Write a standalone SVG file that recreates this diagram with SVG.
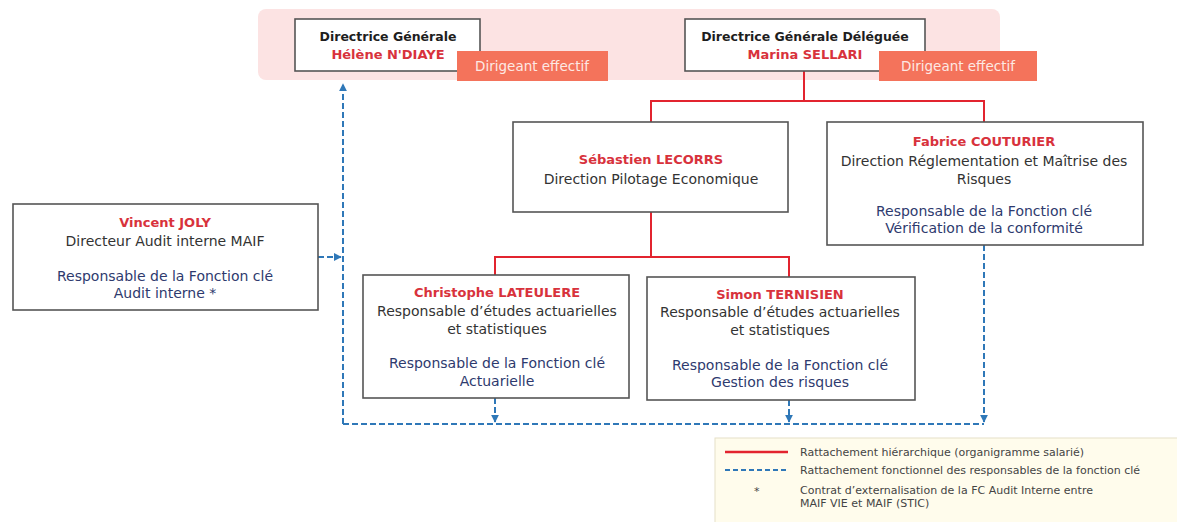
<svg xmlns="http://www.w3.org/2000/svg" width="1177" height="522" viewBox="0 0 1177 522">
<defs>
<style>
text{font-family:"DejaVu Sans","Liberation Sans",sans-serif;text-anchor:middle;}
.box{fill:#fff;stroke:#555;stroke-width:1.6;}
.hd{font-size:12.5px;font-weight:bold;fill:#1e1e1e;}
.nm{font-size:13px;font-weight:bold;fill:#d8323c;}
.tx{font-size:14px;fill:#333;}
.fc{font-size:14px;fill:#2e3a6e;}
.tag{fill:#f4735b;}
.tagt{font-size:13.5px;fill:#fde9e4;}
.red{fill:none;stroke:#e2242f;stroke-width:2;}
.blue{fill:none;stroke:#2f78b8;stroke-width:2;stroke-dasharray:6 3;}
.lg{font-size:11px;fill:#444;text-anchor:start;}
</style>
<marker id="ah" viewBox="0 0 10 10" refX="9" refY="5" markerWidth="4" markerHeight="4" orient="auto" markerUnits="strokeWidth">
<path d="M0,0 L10,5 L0,10 z" fill="#2f78b8"/>
</marker>
</defs>
<rect width="1177" height="522" fill="#fff"/>
<rect id="band" x="258" y="9" width="742" height="71" rx="8" fill="#fce3e3"/>

<g id="connectors">
<path class="red" d="M804,71 V101 M651,122 V101 H984 V122"/>
<path class="red" d="M651,212 V257 M495,275 V257 H789 V277"/>
<path class="blue" d="M343,424 V84" marker-end="url(#ah)"/>
<path class="blue" d="M318,257 H341" marker-end="url(#ah)"/>
<path class="blue" d="M343,424 H984"/>
<path class="blue" d="M984,245 V422" marker-end="url(#ah)"/>
<path class="blue" d="M495,398 V422" marker-end="url(#ah)"/>
<path class="blue" d="M789,400 V422" marker-end="url(#ah)"/>
</g>

<g id="dg">
<rect class="box" x="295" y="19" width="185" height="52"/>
<text class="hd" x="388" y="41">Directrice Générale</text>
<text class="nm" x="388" y="59">Hélène N'DIAYE</text>
<rect class="tag" x="457" y="51" width="151" height="30"/>
<text class="tagt" x="532" y="71">Dirigeant effectif</text>
</g>

<g id="dgd">
<rect class="box" x="685" y="19" width="240" height="52"/>
<text class="hd" x="805" y="41">Directrice Générale Déléguée</text>
<text class="nm" x="805" y="59">Marina SELLARI</text>
<rect class="tag" x="879" y="51" width="158" height="30"/>
<text class="tagt" x="958" y="71">Dirigeant effectif</text>
</g>

<g id="sebastien">
<rect class="box" x="513" y="122" width="275" height="90"/>
<text class="nm" x="651" y="164">Sébastien LECORRS</text>
<text class="tx" x="651" y="184">Direction Pilotage Economique</text>
</g>

<g id="fabrice">
<rect class="box" x="827" y="122" width="316" height="123"/>
<text class="nm" x="984" y="146">Fabrice COUTURIER</text>
<text class="tx" x="984" y="166">Direction Réglementation et Maîtrise des</text>
<text class="tx" x="984" y="184">Risques</text>
<text class="fc" x="984" y="216">Responsable de la Fonction clé</text>
<text class="fc" x="984" y="233">Vérification de la conformité</text>
</g>

<g id="vincent">
<rect class="box" x="13" y="204" width="305" height="106"/>
<text class="nm" x="165" y="227">Vincent JOLY</text>
<text class="tx" x="165" y="246">Directeur Audit interne MAIF</text>
<text class="fc" x="165" y="281">Responsable de la Fonction clé</text>
<text class="fc" x="165" y="298">Audit interne *</text>
</g>

<g id="christophe">
<rect class="box" x="363" y="275" width="266" height="123"/>
<text class="nm" x="497" y="297">Christophe LATEULERE</text>
<text class="tx" x="497" y="316">Responsable d’études actuarielles</text>
<text class="tx" x="497" y="334">et statistiques</text>
<text class="fc" x="497" y="368">Responsable de la Fonction clé</text>
<text class="fc" x="497" y="386">Actuarielle</text>
</g>

<g id="simon">
<rect class="box" x="647" y="277" width="268" height="123"/>
<text class="nm" x="780" y="299">Simon TERNISIEN</text>
<text class="tx" x="780" y="317">Responsable d’études actuarielles</text>
<text class="tx" x="780" y="335">et statistiques</text>
<text class="fc" x="780" y="370">Responsable de la Fonction clé</text>
<text class="fc" x="780" y="387">Gestion des risques</text>
</g>

<g id="legend">
<rect x="715" y="438" width="470" height="90" fill="#fffcec" stroke="#e6e0c8" stroke-width="1"/>
<line x1="725" y1="452" x2="788" y2="452" stroke="#e2242f" stroke-width="2.5"/>
<text class="lg" x="800" y="456">Rattachement hiérarchique (organigramme salarié)</text>
<line x1="725" y1="470" x2="788" y2="470" stroke="#2f78b8" stroke-width="2" stroke-dasharray="5 3"/>
<text class="lg" x="800" y="474">Rattachement fonctionnel des responsables de la fonction clé</text>
<text class="lg" x="754" y="495">*</text>
<text class="lg" x="800" y="494">Contrat d’externalisation de la FC Audit Interne entre</text>
<text class="lg" x="800" y="507">MAIF VIE et MAIF (STIC)</text>
</g>
</svg>
